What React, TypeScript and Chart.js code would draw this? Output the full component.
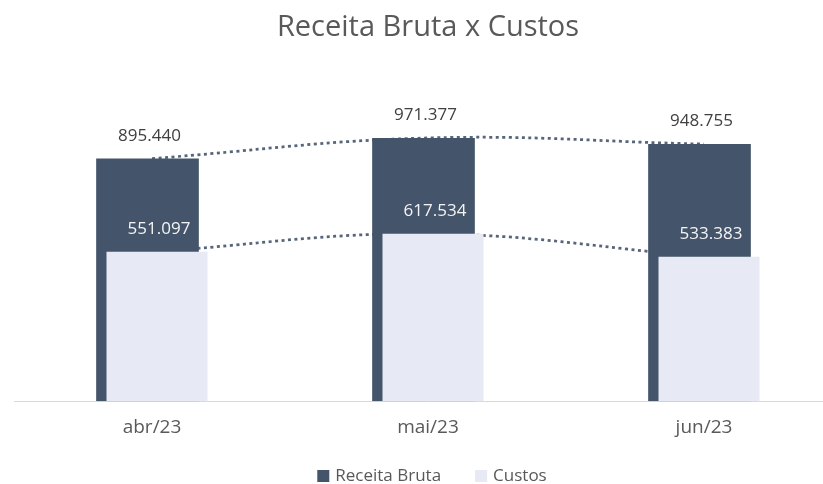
import React, { useEffect, useRef } from "react";
import { Chart, registerables } from "chart.js";

Chart.register(...registerables);

// ---- data ----
const categories: string[] = ["abr/23", "mai/23", "jun/23"];
const receitaBruta: number[] = [895440, 971377, 948755];
const custos: number[] = [551097, 617534, 533383];
const seriesNames: string[] = ["Receita Bruta", "Custos"];
const titleText = "Receita Bruta x Custos";
const yMax = 1200000;

// ---- styles ----
const FONT = "'Open Sans', sans-serif";
const DARK = "#44546A";
const LIGHT = "#E7E9F4";
const LINE = "#56657A";
const TEXT = "#595959";
const CANVAS_W = 856;
const CANVAS_H = 484;

const fmt = (v: number) =>
  Math.round(v)
    .toString()
    .replace(/\B(?=(\d{3})+(?!\d))/g, ".");

// shift overlapping bars horizontally (pixel style offset)
const barShiftPlugin = {
  id: "barShift",
  afterDatasetsUpdate(chart: any) {
    chart.data.datasets.forEach((ds: any, i: number) => {
      if (ds.type !== "bar" || !ds.shift) return;
      const meta = chart.getDatasetMeta(i);
      meta.data.forEach((el: any) => {
        el.x = el.x + ds.shift;
      });
    });
  },
};

const labelPlugin = {
  id: "barLabels",
  afterDatasetsDraw(chart: any) {
    const ctx = chart.ctx;
    ctx.save();
    ctx.font = `17px ${FONT}`;
    ctx.textAlign = "center";
    ctx.textBaseline = "middle";
    chart.data.datasets.forEach((ds: any, i: number) => {
      if (ds.type !== "bar") return;
      const meta = chart.getDatasetMeta(i);
      ctx.fillStyle = ds.labelColor;
      meta.data.forEach((el: any, j: number) => {
        ctx.fillText(fmt(ds.data[j]), el.x + 2, el.y - 22.5);
      });
    });
    ctx.restore();
  },
};

const legendPlugin = {
  id: "customLegend",
  afterDraw(chart: any) {
    const ctx = chart.ctx;
    ctx.save();
    ctx.font = `17px ${FONT}`;
    ctx.textBaseline = "middle";
    ctx.textAlign = "left";
    const box = 12;
    const textGap = 6;
    const itemGap = 34;
    const items = chart.data.datasets.filter((d: any) => d.type === "bar");
    const widths = items.map((d: any) => box + textGap + ctx.measureText(d.label).width);
    const total = widths.reduce((a: number, b: number) => a + b, 0) + itemGap * (items.length - 1);
    let x = chart.width / 2 + 4 - total / 2;
    const cy = 476;
    items.forEach((d: any, k: number) => {
      ctx.fillStyle = d.backgroundColor;
      ctx.fillRect(x, cy - box / 2, box, box);
      ctx.fillStyle = TEXT;
      ctx.fillText(d.label, x + box + textGap, cy);
      x += widths[k] + itemGap;
    });
    ctx.restore();
  },
};

export default function App() {
  const ref = useRef<HTMLCanvasElement | null>(null);

  useEffect(() => {
    if (!ref.current) return;
    const chart = new Chart(ref.current, {
      type: "bar",
      data: {
        labels: categories,
        datasets: [
          {
            type: "bar",
            label: seriesNames[0],
            data: receitaBruta,
            backgroundColor: DARK,
            borderWidth: 0,
            grouped: false,
            barPercentage: 0.372,
            categoryPercentage: 1,
            order: 2,
            shift: -4.5,
            labelColor: "#404040",
          } as any,
          {
            type: "bar",
            label: seriesNames[1],
            data: custos,
            backgroundColor: LIGHT,
            borderWidth: 0,
            grouped: false,
            barPercentage: 0.366,
            categoryPercentage: 1,
            order: 1,
            shift: 5,
            labelColor: "#F4F4F4",
          } as any,
          {
            type: "line",
            label: "trend1",
            data: receitaBruta,
            borderColor: LINE,
            borderWidth: 2.75,
            borderDash: [3, 3.5],
            pointRadius: 0,
            tension: 0.4,
            fill: false,
            order: 10,
          } as any,
          {
            type: "line",
            label: "trend2",
            data: custos,
            borderColor: LINE,
            borderWidth: 2.75,
            borderDash: [3, 3.5],
            pointRadius: 0,
            tension: 0.4,
            fill: false,
            order: 10,
          } as any,
        ],
      },
      options: {
        responsive: false,
        animation: false,
        layout: { padding: { left: 14, right: 14, top: 0, bottom: 30 } },
        plugins: {
          legend: { display: false },
          tooltip: { enabled: false },
          title: {
            display: true,
            text: titleText,
            color: TEXT,
            font: { family: FONT, size: 29, weight: "normal" as any, lineHeight: 1.2 },
            padding: { top: 10, bottom: 31.2 },
          },
        },
        scales: {
          x: {
            type: "category",
            offset: true,
            grid: { display: false, drawTicks: false },
            border: { display: true, color: "#D9D9D9", width: 1 },
            ticks: { color: TEXT, font: { family: FONT, size: 19 }, padding: 15 },
          },
          y: {
            display: false,
            min: 0,
            max: yMax,
          },
        },
      },
      plugins: [barShiftPlugin, labelPlugin, legendPlugin],
    });
    return () => chart.destroy();
  }, []);

  return (
    <div style={{ position: "fixed", left: 0, top: 0, width: CANVAS_W, height: CANVAS_H, background: "#fff" }}>
      <canvas ref={ref} width={CANVAS_W} height={CANVAS_H} style={{ width: CANVAS_W, height: CANVAS_H }} />
    </div>
  );
}
